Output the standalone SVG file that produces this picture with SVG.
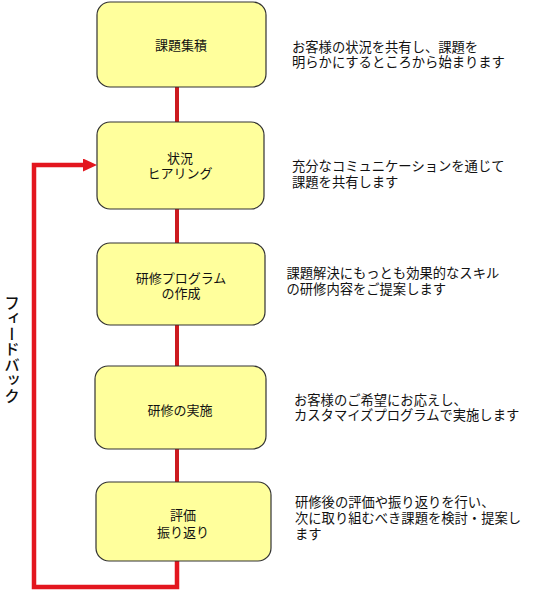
<svg xmlns="http://www.w3.org/2000/svg" width="540" height="599" viewBox="0 0 540 599">
<style>
.box{fill:#ffff9c;stroke:#333;stroke-width:1.2}
.bt{font-family:"Liberation Sans","Noto Sans CJK JP",sans-serif;font-size:13px;fill:#111;text-anchor:middle;dominant-baseline:central}
.dt{font-family:"Liberation Sans","Noto Sans CJK JP",sans-serif;font-size:13.3px;fill:#111;dominant-baseline:central}
.con{stroke:#cc1a1f;stroke-width:4;fill:none}
.fb{stroke:#e3161e;stroke-width:4.5;fill:none}
.vt{font-family:"Noto Sans CJK JP",sans-serif;font-size:15.5px;font-weight:500;fill:#111;writing-mode:vertical-rl}
</style>
<defs>
<marker id="ah" markerUnits="userSpaceOnUse" markerWidth="14" markerHeight="13" refX="0" refY="6.5" orient="auto">
<path d="M0,0 L14,6.5 L0,13 z" fill="#e3161e"/>
</marker>
</defs>
<g id="connectors">
<line class="con" x1="177" y1="87" x2="177" y2="122"/>
<line class="con" x1="177" y1="209" x2="177" y2="243"/>
<line class="con" x1="177" y1="325" x2="177" y2="366"/>
<line class="con" x1="177" y1="449" x2="177" y2="482"/>
<polyline class="fb" points="177,561 177,587 34,587 34,165 83,165" marker-end="url(#ah)"/>
</g>
<g id="n1">
<rect class="box" x="97" y="2" width="169" height="85" rx="13"/>
<text class="bt" x="181" y="45">課題集積</text>
</g>
<g id="n2">
<rect class="box" x="97" y="122" width="167" height="87" rx="13"/>
<text class="bt" y="158"><tspan x="180">状況</tspan><tspan x="180" dy="15">ヒアリング</tspan></text>
</g>
<g id="n3">
<rect class="box" x="97" y="243" width="168" height="82" rx="13"/>
<text class="bt" y="277.5"><tspan x="181">研修プログラム</tspan><tspan x="181" dy="15.5">の作成</tspan></text>
</g>
<g id="n4">
<rect class="box" x="95" y="366" width="171" height="83" rx="13"/>
<text class="bt" x="180" y="410">研修の実施</text>
</g>
<g id="n5">
<rect class="box" x="96" y="482" width="175" height="79" rx="13"/>
<text class="bt" y="515"><tspan x="183">評価</tspan><tspan x="183" dy="16.5">振り返り</tspan></text>
</g>
<g id="descriptions">
<text class="dt" y="47"><tspan x="292">お客様の状況を共有し、課題を</tspan><tspan x="292" dy="15">明らかにするところから始まります</tspan></text>
<text class="dt" y="166"><tspan x="292">充分なコミュニケーションを通じて</tspan><tspan x="292" dy="15.5">課題を共有します</tspan></text>
<text class="dt" y="273"><tspan x="286.5">課題解決にもっとも効果的なスキル</tspan><tspan x="286.5" dy="16">の研修内容をご提案します</tspan></text>
<text class="dt" y="399.5"><tspan x="294">お客様のご希望にお応えし、</tspan><tspan x="294" dy="15">カスタマイズプログラムで実施します</tspan></text>
<text class="dt" y="502"><tspan x="295">研修後の評価や振り返りを行い、</tspan><tspan x="295" dy="16">次に取り組むべき課題を検討・提案し</tspan><tspan x="295" dy="15.5">ます</tspan></text>
</g>
<g id="feedback-label">
<text class="vt" x="12" y="295">フィードバック</text>
</g>
</svg>
